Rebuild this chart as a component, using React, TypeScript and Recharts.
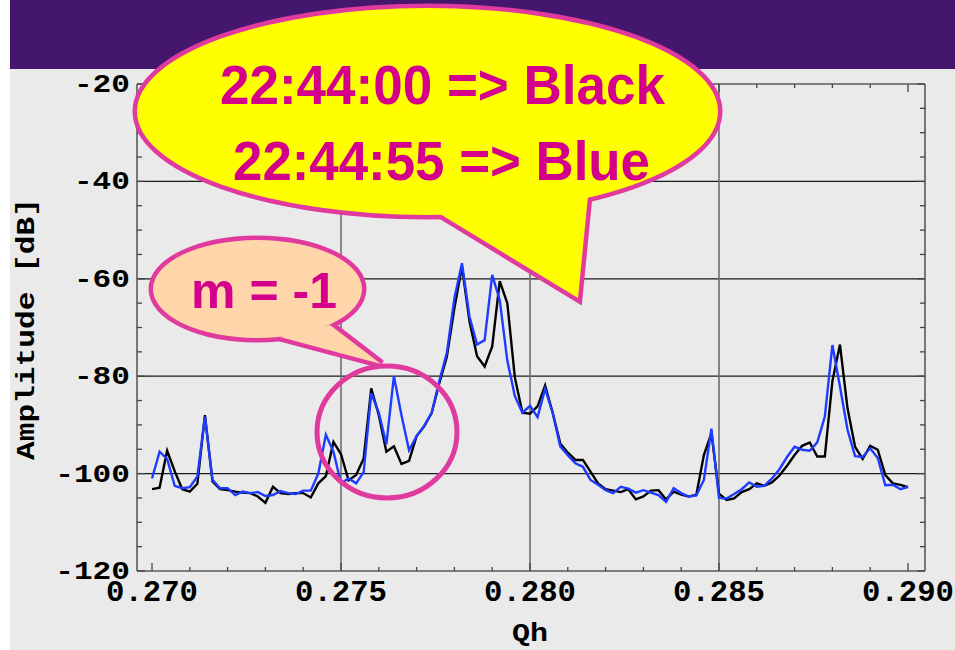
import React from 'react';
import { LineChart, Line, XAxis, YAxis, CartesianGrid } from 'recharts';

// Qh sampling grid
const QH_START = 0.27;
const QH_STEP = 0.0002;

// Amplitude [dB] at 22:44:00 (black)
const black224400 = [
  -103.2, -102.9, -95.3, -99.5, -103.2, -103.7, -102.1, -88, -101.6, -103.2,
  -103.4, -103.7, -103.9, -104, -104.7, -106, -102.7, -104, -104.2, -104,
  -104, -104.9, -102, -100.5, -93.5, -96, -101.4, -100.3, -96.9, -82.5,
  -88, -95.5, -94.4, -98, -97.4, -92.3, -90.3, -87.5, -81.5, -76,
  -66, -57.5, -68.8, -75.9, -78, -73.9, -60.5, -65, -80.3, -87.5,
  -87.7, -86.2, -81.9, -87.5, -93.8, -95.7, -97.2, -97.2, -99.6, -102,
  -103.2, -103.5, -103.8, -103.2, -105.3, -104.7, -103.5, -103.4, -105.3, -103.7,
  -104.3, -104.7, -104.4, -96.2, -91.7, -104.1, -105.4, -105.1, -103.8, -103.2,
  -102, -102.5, -101.8, -100.4, -98.4, -96.2, -94.3, -93.6, -96.5, -96.5,
  -81, -73.5, -86.6, -94.5, -97, -94.3, -95.1, -100.3, -102, -102.3,
  -102.8,
];

// Amplitude [dB] at 22:44:55 (blue)
const blue224455 = [
  -101, -95.5, -97, -102.5, -103, -102.8, -100.6, -88.3, -101.3, -103,
  -103, -104.4, -103.7, -104, -103.8, -104.6, -104.4, -103.6, -104, -104.2,
  -103.5, -103.5, -100, -92, -95.5, -102, -101, -102, -99.7, -83.5,
  -87.5, -94, -80, -88, -95.2, -92.3, -90.2, -87.5, -81, -75.2,
  -64, -56.8, -67.8, -73.5, -72.6, -59.2, -64.4, -76.8, -84.1, -87.5,
  -86.1, -88.4, -82.6, -87.5, -94.4, -96.2, -97.9, -98.6, -101.3, -102.3,
  -103.4, -104, -102.7, -103.1, -103.9, -103.4, -103.9, -104.4, -105.8, -103,
  -104, -104.7, -104.5, -101.3, -90.8, -105, -105.1, -104.2, -103.2, -101.8,
  -102.7, -102.5, -101, -99.1, -96.6, -94.5, -95.1, -95.3, -93.6, -88.3,
  -73.6, -82.1, -91, -96.4, -96.6, -94.8, -96.8, -102.4, -102.3, -103.2,
  -102.7,
];

const xTicks = [
  0.270, 0.271, 0.272, 0.273, 0.274, 0.275, 0.276, 0.277, 0.278, 0.279, 0.280,
  0.281, 0.282, 0.283, 0.284, 0.285, 0.286, 0.287, 0.288, 0.289, 0.290,
];
const xMajorTicks = [0.270, 0.275, 0.280, 0.285, 0.290];
const xTickLabels = ['0.270', '0.275', '0.280', '0.285', '0.290'];
const yTicks = [
  -120, -115, -110, -105, -100, -95, -90, -85, -80, -75, -70, -65, -60, -55, -50,
  -45, -40, -35, -30, -25, -20,
];
const yMajorTicks = [-120, -100, -80, -60, -40, -20];
const yTickLabels = ['-120', '-100', '-80', '-60', '-40', '-20'];
const xGridValues = [0.275, 0.28, 0.285];
const yGridValues = [-100, -80, -60, -40];

const bubbleLines = ['22:44:00 => Black', '22:44:55 => Blue'];
const modeLabel = 'm = -1';
const xTitle = 'Qh';
const yTitle = 'Amplitude [dB]';

const rows = black224400.map((b, i) => ({
  qh: +(QH_START + i * QH_STEP).toFixed(4),
  black: b,
  blue: blue224455[i],
}));

const MONO = '"Liberation Mono", "Courier New", monospace';
const SANS = '"Liberation Sans", Arial, sans-serif';
const TICK_COLOR = '#444';
const FRAME = '#5a5a5a';

const majorIndex = (arr: number[], v: number) =>
  arr.findIndex((m) => Math.abs(m - v) < 1e-7);

const BottomTick = (p: any) => {
  const { x, y, payload } = p;
  const mi = majorIndex(xMajorTicks, payload.value);
  const major = mi >= 0;
  return (
    <g>
      <line x1={x} x2={x} y1={y} y2={y - (major ? 8 : 4)} stroke={TICK_COLOR} strokeWidth={1.3} />
      {major && (
        <text
          x={x}
          y={y + 30}
          textAnchor="middle"
          fontFamily={MONO}
          fontWeight="bold"
          fontSize={30}
          textLength={92}
          lengthAdjust="spacingAndGlyphs"
          fill="#000"
        >
          {xTickLabels[mi]}
        </text>
      )}
    </g>
  );
};

const TopTick = (p: any) => {
  const { x, y, payload } = p;
  const major = majorIndex(xMajorTicks, payload.value) >= 0;
  return <line x1={x} x2={x} y1={y} y2={y + (major ? 8 : 4)} stroke={TICK_COLOR} strokeWidth={1.3} />;
};

const LeftTick = (p: any) => {
  const { x, y, payload } = p;
  const mi = majorIndex(yMajorTicks, payload.value);
  const major = mi >= 0;
  const label = major ? yTickLabels[mi] : '';
  return (
    <g>
      <line x1={x} x2={x + (major ? 8 : 5)} y1={y} y2={y} stroke={TICK_COLOR} strokeWidth={1.3} />
      {major && (
        <text
          x={x - 7}
          y={y + 8}
          textAnchor="end"
          fontFamily={MONO}
          fontWeight="bold"
          fontSize={26}
          textLength={label.length * 18.7}
          lengthAdjust="spacingAndGlyphs"
          fill="#000"
        >
          {label}
        </text>
      )}
    </g>
  );
};

const RightTick = (p: any) => {
  const { x, y, payload } = p;
  const major = majorIndex(yMajorTicks, payload.value) >= 0;
  return <line x1={x} x2={x - (major ? 8 : 5)} y1={y} y2={y} stroke={TICK_COLOR} strokeWidth={1.3} />;
};

const X_DOMAIN: [number, number] = [0.269603, 0.29045];
const Y_DOMAIN: [number, number] = [-120, -20];

const PINK = '#E13A9F';
const MAGENTA = '#D4008C';

export default function App() {
  return (
    <div style={{ position: 'absolute', left: 0, top: 0, width: 955, height: 650, background: '#fff', overflow: 'hidden' }}>
      <div style={{ position: 'absolute', left: 10, top: 0, width: 945, height: 650, background: '#EAEAEA' }} />
      <div style={{ position: 'absolute', left: 10, top: 0, width: 945, height: 69, background: '#44166E' }} />
      <div style={{ position: 'absolute', left: 0, top: 0 }}>
        <LineChart
          width={955}
          height={650}
          data={rows}
          margin={{ top: 83, right: 29, bottom: 78, left: 136 }}
        >
          <CartesianGrid
            horizontal={true}
            vertical={false}
            horizontalValues={yGridValues}
            stroke="#1a1a1a"
            strokeWidth={1.3}
            fill="none"
          />
          <CartesianGrid
            horizontal={false}
            vertical={true}
            verticalValues={xGridValues}
            stroke="#6e6e6e"
            strokeWidth={1.6}
            fill="none"
          />
          <XAxis
            dataKey="qh"
            type="number"
            domain={X_DOMAIN}
            allowDataOverflow
            ticks={xTicks}
            interval={0}
            height={1}
            tickSize={0}
            tickMargin={0}
            tickLine={false}
            axisLine={{ stroke: FRAME, strokeWidth: 1.6 }}
            tick={BottomTick}
          />
          <XAxis
            xAxisId="top"
            orientation="top"
            dataKey="qh"
            type="number"
            domain={X_DOMAIN}
            allowDataOverflow
            ticks={xTicks}
            interval={0}
            height={1}
            tickSize={0}
            tickMargin={0}
            tickLine={false}
            axisLine={{ stroke: FRAME, strokeWidth: 1.6 }}
            tick={TopTick}
          />
          <YAxis
            type="number"
            domain={Y_DOMAIN}
            allowDataOverflow
            ticks={yTicks}
            interval={0}
            width={1}
            tickSize={0}
            tickMargin={0}
            tickLine={false}
            axisLine={{ stroke: FRAME, strokeWidth: 1.6 }}
            tick={LeftTick}
          />
          <YAxis
            yAxisId="right"
            orientation="right"
            type="number"
            domain={Y_DOMAIN}
            allowDataOverflow
            ticks={yTicks}
            interval={0}
            width={1}
            tickSize={0}
            tickMargin={0}
            tickLine={false}
            axisLine={{ stroke: FRAME, strokeWidth: 1.6 }}
            tick={RightTick}
          />
          <Line
            type="linear"
            dataKey="black"
            stroke="#000000"
            strokeWidth={2.4}
            dot={false}
            isAnimationActive={false}
          />
          <Line
            type="linear"
            dataKey="blue"
            stroke="#1E3CFF"
            strokeWidth={2.4}
            dot={false}
            isAnimationActive={false}
          />
        </LineChart>
      </div>
      <svg
        width={955}
        height={650}
        style={{ position: 'absolute', left: 0, top: 0, pointerEvents: 'none' }}
      >
        {/* axis titles */}
        <text
          x={530}
          y={641}
          textAnchor="middle"
          fontFamily={MONO}
          fontWeight="bold"
          fontSize={26}
          textLength={36}
          lengthAdjust="spacingAndGlyphs"
        >
          {xTitle}
        </text>
        <text
          transform="translate(34,329) rotate(-90)"
          textAnchor="middle"
          fontFamily={MONO}
          fontWeight="bold"
          fontSize={26}
          textLength={262}
          lengthAdjust="spacingAndGlyphs"
        >
          {yTitle}
        </text>

        {/* highlight circle */}
        <ellipse cx={387} cy={432} rx={70} ry={66} fill="none" stroke={PINK} strokeWidth={5} />

        {/* m = -1 bubble */}
        <g>
          <polygon points="280,337 381,364 330,325" fill="none" stroke={PINK} strokeWidth={9} strokeLinejoin="miter" />
          <ellipse cx={257.5} cy={289} rx={104.5} ry={49} fill="none" stroke={PINK} strokeWidth={9} />
          <polygon points="280,337 381,364 330,325" fill="#FFD6AA" />
          <ellipse cx={257.5} cy={289} rx={104.5} ry={49} fill="#FFD6AA" />
          <text x={264} y={308} textAnchor="middle" fontFamily={SANS} fontWeight="bold" fontSize={50} fill={MAGENTA}>
            {modeLabel}
          </text>
        </g>

        {/* time legend bubble */}
        <g>
          <polygon points="440,214 578,298 588,196" fill="none" stroke={PINK} strokeWidth={9} strokeLinejoin="miter" />
          <ellipse cx={427.5} cy={111.5} rx={290.5} ry={103.5} fill="none" stroke={PINK} strokeWidth={9} />
          <polygon points="440,214 578,298 588,196" fill="#FFFF00" />
          <ellipse cx={427.5} cy={111.5} rx={290.5} ry={103.5} fill="#FFFF00" />
          <text
            x={442.5}
            y={104}
            textAnchor="middle"
            fontFamily={SANS}
            fontWeight="bold"
            fontSize={56}
            textLength={445}
            lengthAdjust="spacingAndGlyphs"
            fill={MAGENTA}
          >
            {bubbleLines[0]}
          </text>
          <text
            x={441.5}
            y={180}
            textAnchor="middle"
            fontFamily={SANS}
            fontWeight="bold"
            fontSize={56}
            textLength={417}
            lengthAdjust="spacingAndGlyphs"
            fill={MAGENTA}
          >
            {bubbleLines[1]}
          </text>
        </g>
      </svg>
    </div>
  );
}
